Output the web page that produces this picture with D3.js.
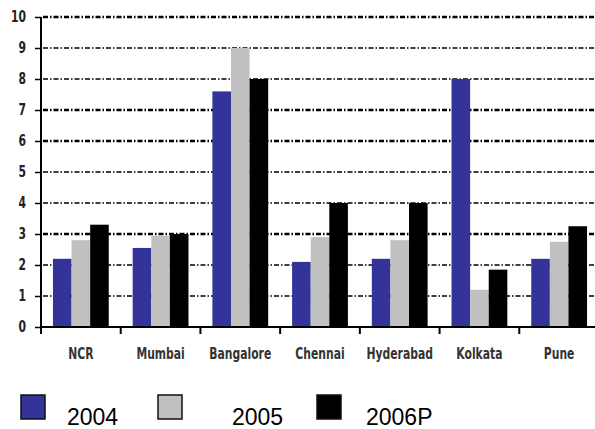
<!DOCTYPE html>
<html lang="en">
<head>
<meta charset="utf-8">
<title>Bar chart</title>
<script src="https://d3js.org/d3.v7.min.js"></script>
<style>
  body { margin: 0; background: white; }
  .narrow { font-family: 'DejaVu Sans Condensed', 'DejaVu Sans', sans-serif; font-weight: bold; font-stretch: condensed; }
</style>
</head>
<body>
<div class="chart"></div>
<script>
// chart data
const cities = ["NCR", "Mumbai", "Bangalore", "Chennai", "Hyderabad", "Kolkata", "Pune"];
const years = ["2004", "2005", "2006P"];
const v2004 = [2.2, 2.55, 7.6, 2.1, 2.2, 8.0, 2.2];
const v2005 = [2.8, 2.95, 9.0, 2.9, 2.8, 1.2, 2.75];
const v2006 = [3.3, 3.0, 8.0, 4.0, 4.0, 1.85, 3.25];
const yTicks = [0, 1, 2, 3, 4, 5, 6, 7, 8, 9, 10];
const thickGrid = [3, 6, 7, 10];

const colors = ["#333399", "#c0c0c0", "#000000"];
const seriesVals = [v2004, v2005, v2006];

const width = 595, height = 429;
const plotLeft = 41, plotRight = 599, plotTop = 17, plotBottom = 327;
const squeeze = 0.8; // the labels use a very narrow face

const svg = d3.select(".chart").append("svg")
    .attr("width", width)
    .attr("height", height);

const x0 = d3.scaleBand().domain(cities).range([plotLeft, plotRight]);
const groupW = x0.bandwidth() * 0.7;
const x1 = d3.scaleBand().domain(years).range([0, groupW]);
const y = d3.scaleLinear().domain([0, 10]).range([plotBottom, plotTop]);

// grid lines
svg.append("g").selectAll("line")
    .data(yTicks.filter(d => d > 0))
    .enter().append("line")
    .attr("x1", plotLeft + 2)
    .attr("x2", width)
    .attr("y1", d => y(d))
    .attr("y2", d => y(d))
    .attr("stroke", "#000")
    .attr("stroke-width", d => thickGrid.includes(d) ? 2.4 : 1.4)
    .attr("stroke-dasharray", "5,2,1.5,2");

// bars
const groups = svg.append("g").selectAll("g")
    .data(cities)
    .enter().append("g")
    .attr("transform", d => "translate(" + (x0(d) + (x0.bandwidth() - groupW) / 2) + ",0)");

groups.selectAll("rect")
    .data((c, i) => years.map((yr, s) => ({ yr: yr, s: s, v: seriesVals[s][i] })))
    .enter().append("rect")
    .attr("x", d => x1(d.yr))
    .attr("width", x1.bandwidth())
    .attr("y", d => y(d.v))
    .attr("height", d => y(0) - y(d.v))
    .attr("fill", d => colors[d.s]);

// y axis
const yAxis = d3.axisLeft(y).tickValues(yTicks).tickSize(6).tickPadding(9);
const gy = svg.append("g")
    .attr("transform", "translate(" + plotLeft + ",0)")
    .call(yAxis);
gy.select(".domain").attr("stroke-width", 2).attr("d", "M0," + y(10) + "V" + (plotBottom + 6));
gy.selectAll(".tick line").attr("stroke-width", 1.5);
gy.selectAll("text")
    .attr("class", "narrow")
    .style("font-size", "15px")
    .attr("fill", "#222")
    .attr("x", -15 / squeeze)
    .attr("transform", "scale(" + squeeze + ",1)");

// x axis
const xAxis = d3.axisBottom(x0).tickSize(0).tickPadding(21);
const gx = svg.append("g")
    .attr("transform", "translate(0," + plotBottom + ")")
    .call(xAxis);
gx.select(".domain").attr("stroke-width", 2).attr("d", "M" + plotLeft + ",0H" + width);
gx.selectAll("text")
    .attr("class", "narrow")
    .style("font-size", "15px")
    .attr("fill", "#333")
    .attr("transform", "scale(" + squeeze + ",1)");
gx.selectAll(".sep")
    .data(cities)
    .enter().append("line")
    .attr("class", "sep")
    .attr("x1", d => x0(d))
    .attr("x2", d => x0(d))
    .attr("y1", 0)
    .attr("y2", 7)
    .attr("stroke", "#000")
    .attr("stroke-width", 2);

// legend
const legendX = [21, 158, 317];
const legendTextX = [67, 232, 366];
const lg = svg.append("g").selectAll("g")
    .data(years)
    .enter().append("g");
lg.append("rect")
    .attr("x", (d, i) => legendX[i])
    .attr("y", 395)
    .attr("width", 24)
    .attr("height", 24)
    .attr("fill", (d, i) => colors[i])
    .attr("stroke", "#111")
    .attr("stroke-width", 1.5);
lg.append("text")
    .attr("x", (d, i) => legendTextX[i])
    .attr("y", 425)
    .style("font-family", "'Liberation Sans', Arial, sans-serif")
    .style("font-size", "23px")
    .text(d => d);
</script>
</body>
</html>
